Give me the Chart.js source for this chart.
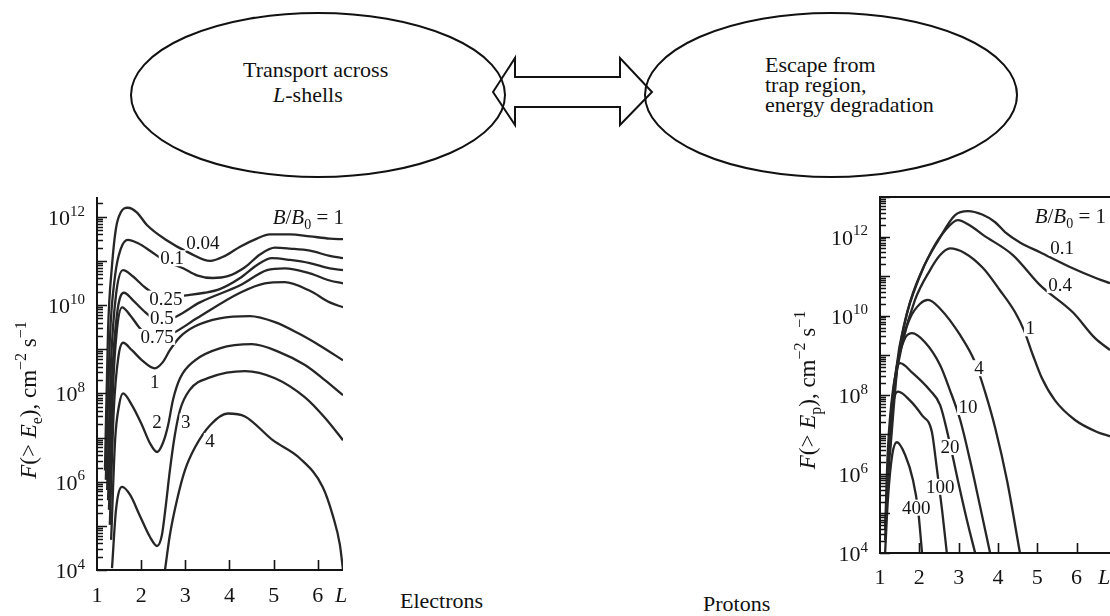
<!DOCTYPE html>
<html>
<head>
<meta charset="utf-8">
<script src="https://cdn.jsdelivr.net/npm/chart.js@4.4.0/dist/chart.umd.min.js"></script>
<style>
  html, body { margin: 0; padding: 0; background: #fff; width: 1110px; height: 616px; overflow: hidden; }
  #wrap { position: relative; width: 1110px; height: 616px; }
  #wrap svg, #wrap canvas { position: absolute; left: 0; top: 0; }
  svg text { font-family: "Liberation Serif", "Times New Roman", serif; font-size: 22px; fill: #111; }
</style>
</head>
<body>
<div id="wrap">
  <svg width="1110" height="616">
    <ellipse cx="318" cy="95" rx="187" ry="82" fill="none" stroke="#111" stroke-width="2"/>
    <ellipse cx="831" cy="95" rx="186" ry="82" fill="none" stroke="#111" stroke-width="2"/>
    <path d="M493,92 L515,58 L515,77 L620,77 L620,58 L652,92 L620,125 L620,107 L515,107 L515,125 Z"
          fill="none" stroke="#111" stroke-width="2" stroke-linejoin="miter"/>
    <text x="243" y="77">Transport across</text>
    <text x="273" y="102"><tspan font-style="italic">L</tspan>-shells</text>
    <text x="765" y="72">Escape from</text>
    <text x="765" y="92">trap region,</text>
    <text x="765" y="112">energy degradation</text>
    <text x="400" y="608">Electrons</text>
    <text x="703" y="611">Protons</text>
  </svg>
  <canvas id="electrons" width="1110" height="616"></canvas>
  <canvas id="protons" width="1110" height="616"></canvas>
</div>
<script>
// ---------- Electrons: integral flux F(>E) versus L, one curve per energy (MeV) ----------
const eL_004 = [1.18,1.25,1.34,1.43,1.54,1.70,1.90,2.13,2.54,3.10,3.56,3.90,4.24,4.62,4.91,5.37,5.82,6.27,6.57];
const eF_004 = [1.8e6,2.7e9,7.9e10,5.5e11,1.26e12,1.6e12,1.26e12,6.5e11,3.1e11,1.5e11,1.0e11,1.3e11,2.1e11,3.2e11,4.0e11,4.0e11,3.6e11,3.2e11,3.1e11];
const eL_01 = [1.20,1.29,1.41,1.54,1.70,1.93,2.20,2.54,2.95,3.26,3.62,3.96,4.35,4.69,5.03,5.37,5.82,6.27,6.57];
const eF_01 = [1.1e6,1.6e9,4.7e10,1.9e11,3.0e11,2.5e11,1.7e11,1.0e11,6.8e10,4.7e10,4.1e10,4.5e10,7.2e10,1.4e11,2.0e11,1.9e11,1.7e11,1.3e11,1.15e11];
const eL_025 = [1.23,1.32,1.43,1.59,1.81,2.09,2.43,2.76,3.10,3.44,3.78,4.24,4.64,4.96,5.37,5.82,6.27,6.57];
const eF_025 = [6.5e5,5.6e8,1.7e10,6.2e10,4.5e10,2.5e10,1.6e10,1.6e10,1.7e10,1.9e10,2.3e10,4.1e10,8.3e10,1.15e11,1.05e11,8.9e10,6.8e10,6.2e10];
const eL_05 = [1.25,1.34,1.45,1.61,1.81,2.09,2.43,2.81,3.33,4.24,4.85,5.25,5.82,6.27,6.57];
const eF_05 = [3.8e5,2.0e8,5.9e9,1.9e10,1.3e10,6.9e9,4.1e9,5.6e9,1.15e10,2.8e10,6.2e10,6.8e10,5.2e10,3.6e10,3.1e10];
const eL_075 = [1.27,1.36,1.45,1.57,1.75,1.97,2.31,2.72,3.26,4.24,4.80,5.25,5.82,6.27,6.57];
const eF_075 = [2.3e5,1.2e8,2.7e9,8.9e9,5.9e9,3.0e9,1.6e9,2.3e9,5.0e9,1.9e10,3.1e10,3.3e10,2.1e10,1.15e10,8.9e9];
const eL_1 = [1.29,1.38,1.48,1.59,1.79,2.02,2.31,2.49,2.65,2.88,3.22,3.78,4.46,5.03,5.59,6.05,6.57];
const eF_1 = [1.05e5,4.2e7,6.3e8,1.4e9,9.5e8,5.6e8,3.7e8,5.1e8,9.5e8,1.9e9,3.3e9,5.0e9,5.6e9,4.1e9,2.2e9,1.2e9,5.6e8];
const eL_2 = [1.32,1.41,1.50,1.59,1.79,2.02,2.20,2.36,2.49,2.61,2.72,2.88,3.22,3.78,4.51,5.14,5.71,6.16,6.57];
const eF_2 = [4.8e4,8.7e6,5.4e7,1.0e8,5.4e7,1.9e7,7.4e6,4.7e6,7.4e6,1.9e7,7.1e7,2.2e8,5.6e8,1.05e9,1.3e9,8.5e8,4.4e8,2.0e8,9.1e7];
const eL_3 = [1.34,1.43,1.57,1.75,1.97,2.20,2.36,2.47,2.56,2.65,2.76,2.88,3.10,3.56,4.35,5.03,5.71,6.16,6.57];
const eF_3 = [1.1e4,2.3e5,7.6e5,5.0e5,1.7e5,5.6e4,3.5e4,6.2e4,3.0e5,1.8e6,1.1e7,4.2e7,1.2e8,2.3e8,3.2e8,2.2e8,8.1e7,2.8e7,8.7e6];
const eL_4 = [2.54,2.65,2.81,2.99,3.22,3.56,3.96,4.35,4.98,5.59,6.11,6.34,6.50,6.57];
const eF_4 = [1.0e4,6.2e4,3.8e5,1.8e6,6.0e6,1.9e7,3.5e7,3.0e7,8.7e6,3.4e6,7.6e5,1.7e5,3.7e4,1.0e4];

const eLabText = ['0.04','0.1','0.25','0.5','0.75','1','2','3','4'];
const eLabL = [3.40,2.70,2.56,2.47,2.36,2.31,2.36,3.01,3.56];
const eLabF = [2.6e11,1.15e11,1.4e10,5.0e9,1.9e9,1.8e8,2.2e7,2.3e7,8.3e6];

// ---------- Protons: integral flux F(>E) versus L, one curve per energy (MeV) ----------
const pL_01 = [1.25,1.46,1.71,2.07,2.48,2.91,3.24,3.60,3.93,4.18,4.56,5.07,5.83,6.52,6.85];
const pF_01 = [3.0e6,7.4e8,1.4e10,1.4e11,7.9e11,3.5e12,4.4e12,3.6e12,2.3e12,1.3e12,7.1e11,4.0e11,1.7e11,8.7e10,6.6e10];
const pL_04 = [1.23,1.41,1.64,1.97,2.32,2.65,2.98,3.29,3.62,4.38,5.07,5.91,6.47,6.85];
const pF_04 = [2.2e6,4.2e8,7.6e9,7.8e10,4.5e11,1.4e12,2.6e12,1.9e12,1.1e12,3.4e11,5.9e10,1.2e10,2.7e9,1.35e9];
const pL_1 = [1.20,1.36,1.59,1.89,2.27,2.53,2.78,3.16,3.62,4.05,4.44,4.66,4.89,5.12,5.45,5.96,6.52,6.85];
const pF_1 = [1.3e6,1.3e8,2.4e9,2.5e10,1.4e11,3.4e11,5.0e11,3.8e11,1.6e11,4.4e10,1.2e10,4.3e9,1.0e9,2.6e8,7.2e7,2.3e7,1.15e7,8.9e6];
const pL_4 = [1.18,1.31,1.51,1.76,2.02,2.22,2.53,3.04,3.42,3.67,3.93,4.23,4.56];
const pF_4 = [2.2e5,4.1e7,1.35e9,8.5e9,2.0e10,2.5e10,1.5e10,3.2e9,6.6e8,1.2e8,1.45e7,6.9e5,1.0e4];
const pL_10 = [1.15,1.25,1.41,1.61,1.81,2.15,2.53,2.78,3.04,3.29,3.54,3.80];
const pF_10 = [6.8e4,1.3e7,4.2e8,2.4e9,3.6e9,2.1e9,5.6e8,1.3e8,2.3e7,2.2e6,1.6e5,1.0e4];
const pL_20 = [1.13,1.20,1.33,1.51,1.81,2.27,2.53,2.73,2.98,3.21,3.42];
const pF_20 = [3.8e4,4.0e6,1.3e8,6.3e8,3.7e8,1.3e8,5.5e7,9.5e6,6.9e5,6.8e4,1.0e4];
const pL_100 = [1.13,1.20,1.31,1.46,1.76,2.07,2.32,2.42,2.58,2.70];
const pF_100 = [2.1e4,1.3e6,4.1e7,1.2e8,7.2e7,3.0e7,1.15e7,2.2e6,1.2e5,1.0e4];
const pL_400 = [1.13,1.20,1.31,1.43,1.64,1.84,1.97,2.07];
const pF_400 = [1.0e4,2.2e5,3.0e6,6.3e6,3.0e6,6.9e5,1.2e5,1.0e4];

const pLabText = ['0.1','0.4','1','4','10','20','100','400'];
const pLabL = [5.63,5.58,4.82,3.52,3.24,2.78,2.53,1.92];
const pLabF = [5.2e11,5.9e10,4.8e9,4.7e8,4.9e7,4.8e6,4.7e5,1.4e5];

// axis tick values
const yLabelExp = [4, 6, 8, 10, 12];
const xTickVals = [1, 2, 3, 4, 5, 6];

// ---------- drawing helpers ----------
const SERIF = '"Liberation Serif", "Times New Roman", serif';
const INK = '#141414';
function fnt(size, italic) { return (italic ? 'italic ' : '') + size + 'px ' + SERIF; }

// text made of runs (italic / subscript / superscript pieces)
function drawRuns(ctx, runs, x, y, size, align) {
  const small = Math.round(size * 0.68);
  let total = 0;
  const widths = runs.map(r => {
    ctx.font = fnt((r.sup || r.sub) ? small : size, r.it);
    const w = ctx.measureText(r.t).width; total += w; return w;
  });
  let cx = align === 'center' ? x - total / 2 : align === 'right' ? x - total : x;
  ctx.textAlign = 'left';
  ctx.textBaseline = 'alphabetic';
  runs.forEach((r, i) => {
    ctx.font = fnt((r.sup || r.sub) ? small : size, r.it);
    const dy = r.sup ? -size * 0.42 : r.sub ? size * 0.24 : 0;
    ctx.fillText(r.t, cx, y + dy);
    cx += widths[i];
  });
}

const frame = {
  id: 'frame',
  afterDatasetsDraw(chart, args, o) {
    const { ctx, scales: { x, y } } = chart;
    ctx.save();
    ctx.font = fnt(19);
    ctx.textAlign = 'center';
    ctx.textBaseline = 'middle';
    o.labText.forEach((t, i) => {
      const px = x.getPixelForValue(o.labL[i]);
      const py = y.getPixelForValue(o.labF[i]);
      const w = ctx.measureText(t).width;
      ctx.fillStyle = '#fff';
      ctx.fillRect(px - w / 2 - 1.5, py - 8, w + 3, 16);
      ctx.fillStyle = INK;
      ctx.fillText(t, px, py + 1);
    });
    ctx.restore();
  },
  afterDraw(chart, args, o) {
    const { ctx, chartArea: a, scales: { x, y } } = chart;
    ctx.save();
    ctx.strokeStyle = INK;
    ctx.fillStyle = INK;
    // axis lines (and the top edge where the panel is boxed)
    ctx.lineWidth = 2;
    ctx.beginPath();
    if (o.topEdge) { ctx.moveTo(a.right, a.top); ctx.lineTo(a.left, a.top); }
    else { ctx.moveTo(a.left, a.top); }
    ctx.lineTo(a.left, a.bottom); ctx.lineTo(a.right, a.bottom);
    ctx.stroke();
    // inward log ticks on the F axis
    ctx.lineWidth = 1.6;
    ctx.beginPath();
    const nLo = Math.floor(Math.log10(y.min)), nHi = Math.ceil(Math.log10(y.max));
    for (let n = nLo; n <= nHi; n++) {
      for (let k = 1; k <= 9; k++) {
        const v = k * Math.pow(10, n);
        if (v < y.min * 0.999 || v > y.max * 1.001) continue;
        const py = Math.round(y.getPixelForValue(v)) + 0.5;
        const len = k === 1 ? 10 : 6;
        ctx.moveTo(a.left, py); ctx.lineTo(a.left + len, py);
      }
    }
    // inward ticks on the L axis
    xTickVals.forEach(v => {
      if (v <= x.min) return;
      const px = Math.round(x.getPixelForValue(v)) + 0.5;
      ctx.moveTo(px, a.bottom); ctx.lineTo(px, a.bottom - 10);
    });
    ctx.stroke();
    // F tick labels 10^n
    yLabelExp.forEach(e => {
      const py = y.getPixelForValue(Math.pow(10, e));
      drawRuns(ctx, [{ t: '10' }, { t: String(e), sup: true }], a.left - 12, py + 8, 22, 'right');
    });
    // L tick labels and the axis letter
    ctx.font = fnt(22);
    ctx.textAlign = 'center';
    ctx.textBaseline = 'alphabetic';
    xTickVals.forEach(v => ctx.fillText(String(v), x.getPixelForValue(v), a.bottom + o.xLabelDrop));
    ctx.font = fnt(22, true);
    ctx.fillText('L', o.lLetterX, a.bottom + o.xLabelDrop);
    // rotated axis title
    ctx.save();
    ctx.translate(o.titleX, o.titleY);
    ctx.rotate(-Math.PI / 2);
    drawRuns(ctx, o.title, 0, 0, 23, 'center');
    ctx.restore();
    // B/B0 = 1 tag
    drawRuns(ctx, [{ t: 'B', it: true }, { t: '/' }, { t: 'B', it: true }, { t: '0', sub: true }, { t: ' = 1' }],
      a.right - o.tagRight, a.top + o.tagDrop, 21, 'right');
    ctx.restore();
  }
};

function curveSets(pairs) {
  return pairs.map(([L, F]) => ({
    data: L.map((l, i) => ({ x: l, y: F[i] })),
    borderColor: '#262626',
    borderWidth: 2.3,
    pointRadius: 0,
    fill: false,
    cubicInterpolationMode: 'monotone'
  }));
}

function makeChart(id, pairs, pad, xMax, yMax, deco) {
  return new Chart(document.getElementById(id), {
    type: 'line',
    data: { datasets: curveSets(pairs) },
    plugins: [frame],
    options: {
      responsive: false,
      animation: false,
      events: [],
      layout: { padding: pad },
      scales: {
        x: { type: 'linear', display: false, min: 1, max: xMax },
        y: { type: 'logarithmic', display: false, min: 1e4, max: yMax }
      },
      plugins: { legend: { display: false }, tooltip: { enabled: false }, frame: deco }
    }
  });
}

makeChart('electrons',
  [[eL_004, eF_004], [eL_01, eF_01], [eL_025, eF_025], [eL_05, eF_05], [eL_075, eF_075],
   [eL_1, eF_1], [eL_2, eF_2], [eL_3, eF_3], [eL_4, eF_4]],
  { left: 97, top: 197, right: 1110 - 343, bottom: 616 - 570 },
  6.57, 2.8e12,
  {
    labText: eLabText, labL: eLabL, labF: eLabF,
    topEdge: false,
    xLabelDrop: 32, lLetterX: 341,
    titleX: 36, titleY: 400,
    title: [{ t: 'F', it: true }, { t: '(> ' }, { t: 'E', it: true }, { t: 'e', sub: true },
            { t: '), cm' }, { t: '\u22122', sup: true }, { t: ' s' }, { t: '\u22121', sup: true }],
    tagRight: -1, tagDrop: 27
  });

makeChart('protons',
  [[pL_01, pF_01], [pL_04, pF_04], [pL_1, pF_1], [pL_4, pF_4], [pL_10, pF_10],
   [pL_20, pF_20], [pL_100, pF_100], [pL_400, pF_400]],
  { left: 880, top: 197, right: 0, bottom: 616 - 553 },
  6.85, 1e13,
  {
    labText: pLabText, labL: pLabL, labF: pLabF,
    topEdge: true,
    xLabelDrop: 31, lLetterX: 1104,
    titleX: 815, titleY: 390,
    title: [{ t: 'F', it: true }, { t: '(> ' }, { t: 'E', it: true }, { t: 'p', sub: true },
            { t: '), cm' }, { t: '\u22122', sup: true }, { t: ' s' }, { t: '\u22121', sup: true }],
    tagRight: 4, tagDrop: 26
  });
</script>
</body>
</html>
